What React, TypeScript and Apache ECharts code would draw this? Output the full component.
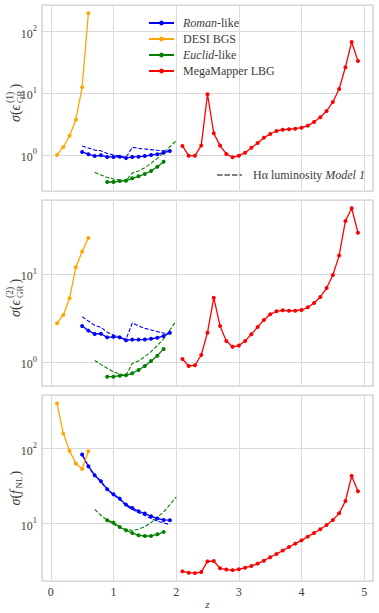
import React, { useEffect, useRef } from "react";
import * as echarts from "echarts";

// ---------- data ----------
const zDesi = [0.1, 0.2, 0.3, 0.4, 0.5, 0.6];
const zRoman = [0.5, 0.6, 0.7, 0.8, 0.9, 1.0, 1.1, 1.2, 1.3, 1.4, 1.5, 1.6, 1.7, 1.8, 1.9];
const zEuclid = [0.9, 1.0, 1.1, 1.2, 1.3, 1.4, 1.5, 1.6, 1.7, 1.8];
const zEuclidModel = [0.7, 0.8, 0.9, 1.0, 1.1, 1.2, 1.3, 1.4, 1.5, 1.6, 1.7, 1.8, 1.9, 2.0];
const zMega = [2.1, 2.2, 2.3, 2.4, 2.5, 2.6, 2.7, 2.8, 2.9, 3.0, 3.1, 3.2, 3.3, 3.4, 3.5, 3.6, 3.7, 3.8, 3.9, 4.0, 4.1, 4.2, 4.3, 4.4, 4.5, 4.6, 4.7, 4.8, 4.9];

// panel 1: sigma(eps_GR^(1))
const desi1 = [1.0, 1.35, 2.05, 3.73, 12.5, 198];
const roman1 = [1.12, 1.03, 0.96, 0.99, 0.93, 0.93, 0.94, 0.89, 0.93, 0.94, 0.96, 1.0, 1.03, 1.09, 1.16];
const romanModel1 = [1.4, 1.3, 1.2, 1.17, 1.06, 1.0, 0.97, 0.91, 1.33, 1.28, 1.25, 1.22, 1.19, 1.17, 1.16];
const euclid1 = [0.365, 0.365, 0.379, 0.384, 0.419, 0.452, 0.492, 0.551, 0.646, 0.78];
const euclidModel1 = [0.524, 0.474, 0.435, 0.408, 0.394, 0.384, 0.511, 0.551, 0.623, 0.733, 0.883, 1.09, 1.36, 1.71];
const mega1 = [1.4, 0.975, 0.975, 1.42, 9.64, 2.25, 1.42, 1.04, 0.918, 0.975, 1.09, 1.31, 1.56, 1.91, 2.19, 2.45, 2.57, 2.61, 2.67, 2.77, 2.99, 3.43, 4.08, 5.16, 7.23, 11.7, 26.4, 67.8, 33.4];

// panel 2: sigma(eps_GR^(2))
const desi2 = [2.77, 3.45, 5.33, 12.0, 18.1, 25.9];
const roman2 = [2.59, 2.29, 2.1, 2.11, 1.92, 1.95, 1.92, 1.78, 1.81, 1.81, 1.82, 1.85, 1.9, 1.99, 2.17];
const romanModel2 = [3.3, 2.94, 2.63, 2.5, 2.19, 2.04, 1.95, 1.82, 2.8, 2.59, 2.43, 2.33, 2.23, 2.15, 2.1];
const euclid2 = [0.686, 0.686, 0.705, 0.711, 0.75, 0.818, 0.908, 1.035, 1.19, 1.42];
const euclidModel2 = [1.05, 0.948, 0.855, 0.782, 0.736, 0.711, 0.975, 1.035, 1.16, 1.32, 1.55, 1.84, 2.33, 2.94];
const mega2 = [1.09, 0.908, 0.925, 1.21, 2.17, 5.42, 2.59, 1.75, 1.5, 1.55, 1.75, 2.08, 2.52, 3.03, 3.51, 3.8, 3.9, 3.85, 3.85, 3.93, 4.22, 4.72, 5.52, 6.98, 9.82, 16.3, 40.4, 56.2, 29.7];

// panel 3: sigma(f_NL)
const desi3 = [398, 158, 92.9, 63.1, 53.5, 92.0];
const roman3 = [83.2, 58.1, 44.1, 36.6, 28.7, 24.6, 21.5, 17.9, 16.1, 14.6, 13.6, 12.5, 11.7, 11.2, 11.1];
const romanModel3 = [83, 57, 43.5, 36, 28.3, 24.2, 21, 17.3, 15.5, 14.0, 12.8, 11.7, 10.8, 10.2, 9.7];
const euclid3 = [11.1, 10.3, 9.02, 8.15, 7.5, 6.98, 6.84, 6.84, 7.2, 7.73];
const euclidModel3 = [15.5, 12.9, 11.1, 9.8, 8.85, 8.32, 8.15, 8.39, 9.12, 10.3, 12.2, 14.3, 17.9, 22.6];
const mega3 = [2.31, 2.22, 2.19, 2.26, 3.14, 3.17, 2.54, 2.44, 2.4, 2.46, 2.59, 2.72, 2.93, 3.21, 3.56, 3.94, 4.37, 4.88, 5.41, 5.98, 6.71, 7.5, 8.39, 9.57, 11.2, 13.7, 20.0, 43.2, 27.0];

const xTicks = [0, 1, 2, 3, 4, 5];
const yRanges = [
  [0.261, 269],
  [0.538, 69.8],
  [1.72, 516],
];

const panels = [
  { desi: desi1, roman: roman1, romanModel: romanModel1, euclid: euclid1, euclidModel: euclidModel1, mega: mega1 },
  { desi: desi2, roman: roman2, romanModel: romanModel2, euclid: euclid2, euclidModel: euclidModel2, mega: mega2 },
  { desi: desi3, roman: roman3, romanModel: romanModel3, euclid: euclid3, euclidModel: euclidModel3, mega: mega3 },
];

const legendNames = ["Roman", "DESI", "Euclid", "MegaMapper"];

// ---------- styling ----------
const FONT = "Liberation Serif";
const TXT = "#3c3c3c";
const GRID = "#dadada";
const BLUE = "#0000ff";
const ORANGE = "#ffa500";
const GREEN = "#008000";
const RED = "#ff0000";

const gridTops = [5, 200, 395];
const gridH = 186;

function pairs(xs: number[], ys: number[]) {
  return xs.map((x, i) => [x, ys[i]]);
}

function yLabel(cx: number, cy: number, kind: number) {
  const base = { fontFamily: FONT, fill: TXT, verticalAlign: "middle" as const, align: "left" as const };
  const rich = {
    i: { fontStyle: "italic", fontFamily: FONT, fontSize: 14, fill: TXT },
    r: { fontFamily: FONT, fontSize: 14, fill: TXT },
  };
  let children: any[];
  let total: number;
  if (kind < 2) {
    total = 40;
    const s = -total / 2;
    children = [
      { type: "text", x: s, y: 0, style: { ...base, text: "{i|σ}{r|(}{i|ϵ}", fontSize: 14, rich } },
      { type: "text", x: s + 19, y: -5.5, style: { ...base, text: kind === 0 ? "(1)" : "(2)", fontSize: 9.5 } },
      { type: "text", x: s + 19, y: 5, style: { ...base, text: "GR", fontSize: 9 } },
      { type: "text", x: s + 33.5, y: 0, style: { ...base, text: ")", fontSize: 14 } },
    ];
  } else {
    total = 35;
    const s = -total / 2;
    children = [
      { type: "text", x: s, y: 0, style: { ...base, text: "{i|σ}{r|(}{i|f}", fontSize: 14, rich } },
      { type: "text", x: s + 17, y: 4, style: { ...base, text: "NL", fontSize: 9 } },
      { type: "text", x: s + 30, y: 0, style: { ...base, text: ")", fontSize: 14 } },
    ];
  }
  return { type: "group", x: cx, y: cy, rotation: Math.PI / 2, children };
}

export default function App() {
  const ref = useRef<HTMLDivElement>(null);

  useEffect(() => {
    document.body.style.margin = "0";
    if (!ref.current) return;
    const chart = echarts.init(ref.current, null, { renderer: "svg" });

    const grid = gridTops.map((t) => ({
      left: 42,
      right: 6,
      top: t,
      height: gridH,
      show: true,
      borderColor: "#cccccc",
      borderWidth: 1.25,
      backgroundColor: "#ffffff",
    }));

    const xAxis = gridTops.map((_, i) => ({
      type: "value",
      gridIndex: i,
      min: -0.14,
      max: 5.14,
      splitNumber: 5,
      axisLine: { show: false },
      axisTick: { show: false },
      splitLine: { show: true, lineStyle: { color: GRID, width: 1 } },
      axisLabel: {
        show: i === 2,
        showMinLabel: false,
        showMaxLabel: false,
        fontFamily: FONT,
        fontSize: 12,
        color: TXT,
        margin: 5,
        formatter: (v: number) => (xTicks.includes(Math.round(v * 1000) / 1000) ? String(Math.round(v)) : ""),
      },
      name: i === 2 ? "z" : "",
      nameLocation: "middle",
      nameGap: 17,
      nameTextStyle: { fontFamily: FONT, fontSize: 11, fontStyle: "italic", color: TXT },
    }));

    const yAxis = gridTops.map((_, i) => ({
      type: "log",
      logBase: 10,
      gridIndex: i,
      min: yRanges[i][0],
      max: yRanges[i][1],
      axisLine: { show: false },
      axisTick: { show: false },
      minorTick: { show: false },
      splitLine: { show: true, lineStyle: { color: GRID, width: 1 } },
      axisLabel: {
        showMinLabel: false,
        showMaxLabel: false,
        margin: 5,
        fontFamily: FONT,
        formatter: (v: number) => `{b|10}{s|${Math.round(Math.log10(v))}}`,
        rich: {
          b: { fontFamily: FONT, fontSize: 12, color: TXT, lineHeight: 16, verticalAlign: "bottom" },
          s: { fontFamily: FONT, fontSize: 8.5, color: TXT, lineHeight: 16, verticalAlign: "top" },
        },
      },
    }));

    const solid = (name: string, color: string, xs: number[], ys: number[], i: number) => ({
      type: "line",
      name,
      xAxisIndex: i,
      yAxisIndex: i,
      data: pairs(xs, ys),
      color,
      symbol: "circle",
      symbolSize: 4,
      showSymbol: true,
      lineStyle: { color, width: 1.3 },
      itemStyle: { color },
      z: 3,
    });
    const dashed = (name: string, color: string, xs: number[], ys: number[], i: number) => ({
      type: "line",
      name,
      xAxisIndex: i,
      yAxisIndex: i,
      data: pairs(xs, ys),
      color,
      symbol: "none",
      lineStyle: { color, width: 1.1, type: [4, 1.8] },
      z: 2,
    });

    const series: any[] = [];
    panels.forEach((p, i) => {
      series.push(solid("Roman", BLUE, zRoman, p.roman, i));
      series.push(dashed("RomanModel1", BLUE, zRoman, p.romanModel, i));
      series.push(solid("DESI", ORANGE, zDesi, p.desi, i));
      series.push(solid("Euclid", GREEN, zEuclid, p.euclid, i));
      series.push(dashed("EuclidModel1", GREEN, zEuclidModel, p.euclidModel, i));
      series.push(solid("MegaMapper", RED, zMega, p.mega, i));
    });
    series.push({
      type: "line",
      name: "Model1",
      xAxisIndex: 0,
      yAxisIndex: 0,
      data: [],
      color: "#000000",
      symbol: "none",
      lineStyle: { color: "#000000", width: 1.1, type: [4, 1.8] },
    });

    const rich = {
      r: { fontFamily: FONT, fontSize: 12, color: TXT },
      i: { fontFamily: FONT, fontSize: 12, fontStyle: "italic", color: TXT },
    };
    const legendText = {
      fontFamily: FONT,
      fontSize: 12,
      color: TXT,
      lineHeight: 12,
      padding: [0, 0, 0, 4],
      rich,
    };

    const labels: Record<string, string> = {
      Roman: "{i|Roman}{r|-like}",
      DESI: "{r|DESI BGS}",
      Euclid: "{i|Euclid}{r|-like}",
      MegaMapper: "{r|MegaMapper LBG}",
      Model1: "{r|Hα luminosity }{i|Model 1}",
    };

    chart.setOption({
      animation: false,
      backgroundColor: "#ffffff",
      grid,
      xAxis,
      yAxis,
      series,
      legend: [
        {
          data: legendNames,
          orient: "vertical",
          left: 143,
          top: 12,
          itemWidth: 25,
          itemHeight: 6,
          itemGap: 4,
          selectedMode: false,
          formatter: (n: string) => labels[n],
          textStyle: legendText,
        },
        {
          data: [
            {
              name: "Model1",
              icon: "path://M0,0h5.5v1.2h-5.5z M7.5,0h5.5v1.2h-5.5z M15,0h5.5v1.2h-5.5z M22.5,0h2.5v1.2h-2.5z",
            },
          ],
          orient: "vertical",
          left: 212,
          top: 164,
          itemWidth: 25,
          itemHeight: 6,
          selectedMode: false,
          formatter: (n: string) => labels[n],
          textStyle: { ...legendText, padding: [0, 0, 0, 6] },
        },
      ],
      graphic: [
        yLabel(15, gridTops[0] + gridH / 2 + 4, 0),
        yLabel(15, gridTops[1] + gridH / 2 + 4, 1),
        yLabel(15, gridTops[2] + gridH / 2, 2),
      ],
    });

    return () => chart.dispose();
  }, []);

  return <div ref={ref} style={{ width: 379, height: 613 }} />;
}
